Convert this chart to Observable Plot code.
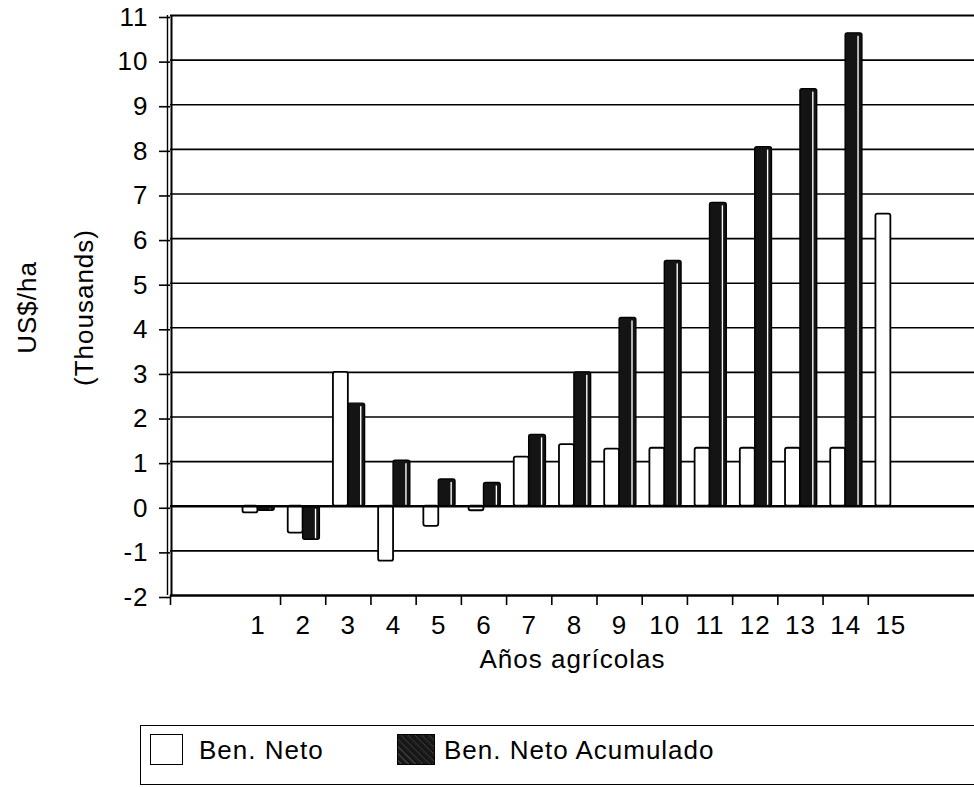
<!DOCTYPE html>
<html>
<head>
<meta charset="utf-8">
<script src="https://cdn.jsdelivr.net/npm/d3@7"></script>
<script src="https://cdn.jsdelivr.net/npm/@observablehq/plot@0.6"></script>
<style>
  html, body { margin: 0; padding: 0; background: #fff; overflow: hidden; width: 974px; height: 787px; }
  body { font-family: "Liberation Sans", Arial, sans-serif; color: #000; }
  #chart svg { display: block; }
  #chart svg text { letter-spacing: 1px; }
  #legend { position: relative; margin-left: 140px; width: 860px; height: 58px; border: 1.5px solid #000; border-right: none; box-sizing: content-box; font-size: 26px; letter-spacing: 1px; }
  #legend .sw { position: absolute; top: 8px; height: 31px; box-sizing: border-box; }
  #legend .lbl { position: absolute; top: 11px; line-height: 26px; white-space: nowrap; }
</style>
</head>
<body>
<div id="chart"></div>
<div id="legend"></div>
<script>
// ---- data ----
const years = [1, 2, 3, 4, 5, 6, 7, 8, 9, 10, 11, 12, 13, 14, 15];
const benNeto = [-0.15, -0.6, 3.0, -1.23, -0.45, -0.1, 1.1, 1.38, 1.28, 1.3, 1.3, 1.3, 1.3, 1.3, 6.55];
const benAcum = [-0.1, -0.75, 2.3, 1.02, 0.6, 0.52, 1.6, 3.0, 4.22, 5.5, 6.8, 8.05, 9.35, 10.6, null];
const seriesNames = ["Ben. Neto", "Ben. Neto Acumulado"];
const yTicks = [-2, -1, 0, 1, 2, 3, 4, 5, 6, 7, 8, 9, 10, 11];
const gridValues = [-1, 1, 2, 3, 4, 5, 6, 7, 8, 9, 10];
const sepTicks = [1.5, 2.5, 3.5, 4.5, 5.5, 6.5, 7.5, 8.5, 9.5, 10.5, 11.5, 12.5, 13.5, 14.5];
const xDomain = [-0.934, 16.85];
const yDomain = [-2, 11];
const xTitle = "Años agrícolas";
const yTitle1 = "US$/ha";
const yTitle2 = "(Thousands)";

const rows = years.map((y, i) => ({year: y, neto: benNeto[i], acum: benAcum[i]}));
const acumRows = rows.filter(d => d.acum != null);

const plot = Plot.plot({
  width: 974,
  height: 725,
  marginTop: 15,
  marginLeft: 170,
  marginRight: 0,
  marginBottom: 130,
  style: {fontFamily: "Liberation Sans, Arial, sans-serif", fontSize: "26px", color: "#000", background: "#fff"},
  x: {type: "linear", domain: xDomain, axis: null},
  y: {domain: yDomain, axis: null},
  marks: [
    Plot.ruleY(gridValues, {stroke: "#000", strokeWidth: 1.6}),
    Plot.ruleY([yDomain[1]], {stroke: "#000", strokeWidth: 1.8}),
    Plot.rect(rows, {x1: d => d.year - 0.33, x2: d => d.year, y1: 0, y2: "neto", fill: "#fff", stroke: "#000", strokeWidth: 1.8, rx: 2}),
    Plot.rect(acumRows, {x1: d => d.year, x2: d => d.year + 0.37, y1: 0, y2: "acum", fill: "#141414", stroke: "#000", strokeWidth: 1.4, rx: 2}),
    Plot.rect(acumRows, {x1: d => d.year + 0.27, x2: d => d.year + 0.30, y1: 0, y2: "acum", fill: "#fff", insetTop: 3, insetBottom: 1}),
    Plot.ruleY([0], {stroke: "#000", strokeWidth: 2.6}),
    Plot.ruleY([yDomain[0]], {stroke: "#000", strokeWidth: 2.6}),
    Plot.ruleX([xDomain[0]], {stroke: "#000", strokeWidth: 2, dx: 1}),
    Plot.ruleX([xDomain[0]], {stroke: "#000", strokeWidth: 1.4, dx: -3}),
    Plot.axisY(yTicks, {tickSize: 11, tickPadding: 11, strokeWidth: 1.6, dy: 2, label: null, tickFormat: d => String(d).replace("−", "-")}),
    Plot.axisX([xDomain[0], ...sepTicks], {tickSize: 10, strokeWidth: 1.6, tickFormat: () => "", label: null}),
    Plot.axisX(years, {tickSize: 0, tickPadding: 20, label: null}),
    Plot.text([xTitle], {frameAnchor: "bottom", dy: 64, lineAnchor: "middle", textAnchor: "middle", fill: "#000"}),
    Plot.text([yTitle1], {frameAnchor: "left", rotate: -90, dx: -143, dy: 2, lineAnchor: "middle", textAnchor: "middle", fill: "#000"}),
    Plot.text([yTitle2], {frameAnchor: "left", rotate: -90, dx: -86, dy: 2, lineAnchor: "middle", textAnchor: "middle", fill: "#000"})
  ]
});
document.getElementById("chart").append(plot);

// legend
const legend = d3.select("#legend");
legend.append("div").attr("class", "sw")
  .style("left", "9px").style("width", "33px")
  .style("background", "#fff").style("border", "1.5px solid #000");
legend.append("div").attr("class", "lbl").style("left", "58px").text(seriesNames[0]);
legend.append("div").attr("class", "sw")
  .style("left", "256px").style("width", "38px")
  .style("background", "repeating-linear-gradient(45deg,#1c1c1c 0 2px,#3a3a3a 2px 3px,#151515 3px 5px)")
  .style("border", "1px solid #000");
legend.append("div").attr("class", "lbl").style("left", "303px").text(seriesNames[1]);
</script>
</body>
</html>
